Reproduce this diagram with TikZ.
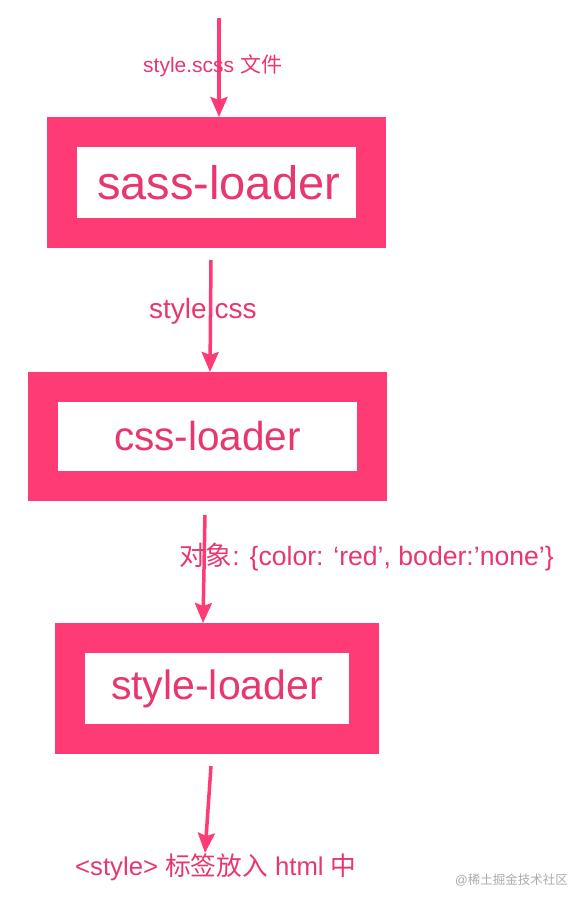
\documentclass[tikz,border=0pt]{standalone}
\usepackage{fontspec}
\usepackage{xcolor}
\usepackage{tikz}
\usetikzlibrary{arrows.meta}
\setmainfont{Liberation Sans}
\newfontfamily\cjk{Noto Sans CJK SC}
\definecolor{boxpink}{HTML}{FE3B75}
\definecolor{txtpink}{HTML}{E8366F}
\definecolor{markgray}{HTML}{ABABAB}

\begin{document}
\begin{tikzpicture}[x=1pt,y=-1pt,
        loader/.style={draw=boxpink,line width=30pt,fill=white,text=txtpink,inner sep=0pt},
        flow/.style={draw=boxpink,line width=3.5pt,-{Stealth[length=20pt,width=17pt,inset=3pt]}},
        lbl/.style={anchor=base west,text=txtpink,inner sep=0pt}]
        \useasboundingbox (0,0) rectangle (587,905);

        %sass
        \node[style=loader,minimum width=309pt,minimum height=101pt] (sass) at (216.5,182.5){\hspace{4pt}\fontsize{47}{50}\selectfont sass-loader};
        \coordinate (in) at (219,18);
        \draw[style=flow] (in)--(in |- sass.north);
        \node[style=lbl] (scss) at (143,72){\fontsize{21}{24}\selectfont style.scss {\cjk 文件}};

        %css
        \node[style=loader,minimum width=329pt,minimum height=99pt] (css) at (207.5,436.5){\fontsize{40.5}{44}\selectfont css-loader\hspace{6pt}};
        \coordinate (s2) at (211,260);
        \draw[style=flow] (s2)--(210,0 |- css.north);
        \node[style=lbl] (cssfile) at (149,318){\fontsize{28}{32}\selectfont style.css};

        %style
        \node[style=loader,minimum width=294pt,minimum height=101pt] (sty) at (217,688.5){\fontsize{41}{44}\selectfont style-loader};
        \coordinate (s3) at (205,515);
        \draw[style=flow] (s3)--(203,0 |- sty.north);
        \node[style=lbl] (obj) at (179,565){\fontsize{26.6}{30}\selectfont {\cjk 对象}: \{color: ‘red’, boder:’none’\}};

        %html
        \coordinate (s4) at (211,766);
        \coordinate (out) at (205,853);
        \draw[style=flow] (s4)--(out);
        \node[style=lbl] (html) at (75,875){\fontsize{25.7}{28}\selectfont <style> {\cjk 标签放入} html {\cjk 中}};

        \node[anchor=base west,text=markgray,inner sep=0pt] (mark) at (455,884){\fontsize{12.5}{14}\selectfont @{\cjk 稀土掘金技术社区}};
\end{tikzpicture}
\end{document}
